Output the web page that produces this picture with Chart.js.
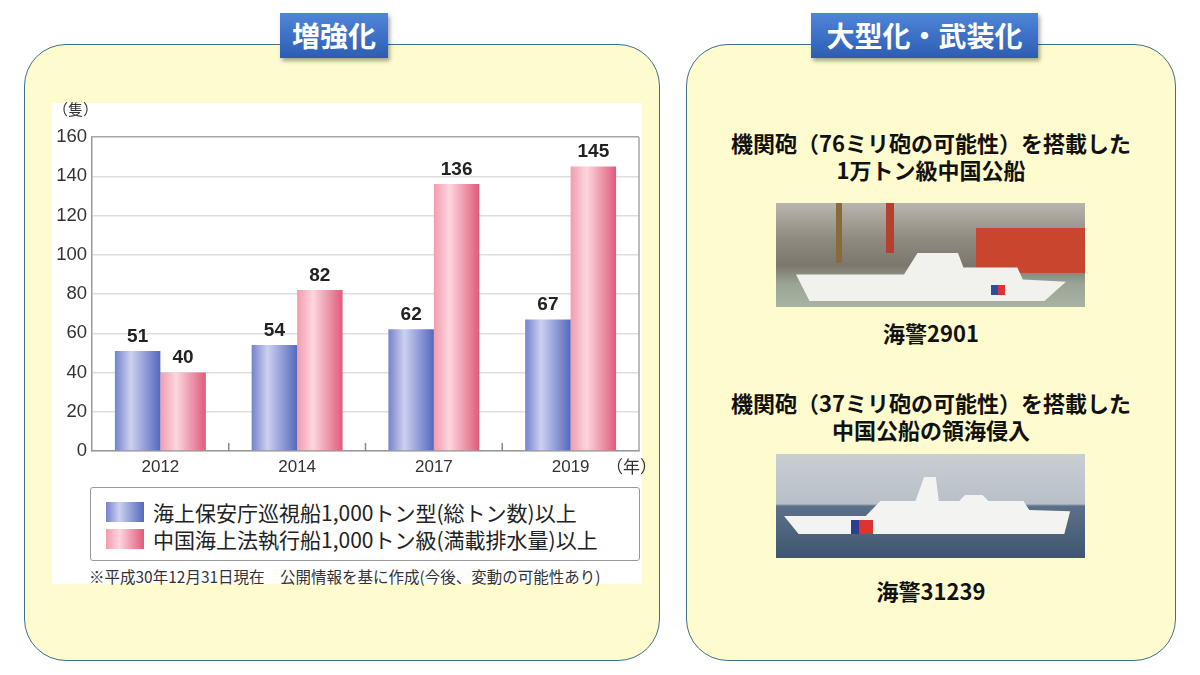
<!DOCTYPE html>
<html lang="ja">
<head>
<meta charset="utf-8">
<title>増強化・大型化・武装化</title>
<script src="https://cdn.jsdelivr.net/npm/chart.js@4.4.1/dist/chart.umd.min.js"></script>
<style>
  html, body { margin: 0; padding: 0; }
  body {
    width: 1200px; height: 675px; position: relative; overflow: hidden;
    background: #ffffff;
    font-family: "Noto Sans CJK JP", "Noto Sans", sans-serif;
  }
  .panel {
    position: absolute; top: 44px; height: 617px;
    background: #fefccf; border: 1.5px solid #3d6f86; border-radius: 42px;
    box-sizing: border-box;
  }
  .tag {
    position: absolute; top: 13px; height: 45px; line-height: 45px;
    background: linear-gradient(#4f85d8, #2d5db3);
    color: #fff; font-weight: bold; font-size: 28px; text-align: center;
    box-shadow: 2px 3px 4px rgba(0,0,0,0.35);
  }
  #sheet { position: absolute; left: 52px; top: 103px; width: 590px; height: 481px; background: #fff; }
  #chartBox { position: absolute; left: 52px; top: 103px; width: 590px; height: 382px; }
  .unit { position: absolute; font-size: 15px; color: #333; }
  #legend {
    position: absolute; left: 90px; top: 487px; width: 550px; height: 74px;
    border: 1.5px solid #999; border-radius: 3px; box-sizing: border-box; background: #fff;
  }
  .lg-row { position: absolute; left: 15px; height: 28px; display: flex; align-items: center; font-size: 21px; color: #222; white-space: nowrap; }
  .lg-sw { width: 38px; height: 20px; margin-right: 9px; }
  #note { position: absolute; left: 89px; top: 565px; font-size: 15.5px; color: #333; white-space: nowrap; }
  .cap { position: absolute; left: 686px; width: 490px; text-align: center; font-weight: bold; font-size: 22px; color: #111; line-height: 27px; }
  .photo { position: absolute; left: 776px; width: 309px; height: 104px; overflow: hidden; }
  .shape { position: absolute; }
</style>
</head>
<body>

<div class="panel" style="left:24px; width:636px;"></div>
<div class="panel" style="left:686px; width:490px;"></div>
<div class="tag" style="left:280px; width:108px;">増強化</div>
<div class="tag" style="left:811px; width:227px;">大型化・武装化</div>

<div id="sheet"></div>
<div id="chartBox"><canvas id="shipChart"></canvas></div>
<div class="unit" style="left:53px; top:98px;">（隻）</div>
<div class="unit" style="left:606px; top:453px; font-size:17px;">（年）</div>
<div id="legend"></div>
<div id="note">※平成30年12月31日現在　公開情報を基に作成(今後、変動の可能性あり)</div>

<div class="cap" style="top:129px;">機関砲（76ミリ砲の可能性）を搭載した<br>1万トン級中国公船</div>
<div class="photo" style="top:203px; background: linear-gradient(#b9b5ad 0%, #8f8a80 35%, #7c776c 60%, #9aa596 78%, #a9b3a2 100%);">
  <div class="shape" style="left:200px; top:25px; width:109px; height:45px; background:#c8462e;"></div>
  <div class="shape" style="left:60px; top:0; width:6px; height:60px; background:#8a6a3c;"></div>
  <div class="shape" style="left:110px; top:0; width:8px; height:50px; background:#b64030;"></div>
  <div class="shape" style="left:20px; top:50px; width:270px; height:48px; background:#f1f1ee; clip-path: polygon(0 45%, 40% 45%, 45% 0, 60% 0, 62% 30%, 82% 30%, 84% 55%, 100% 60%, 92% 100%, 5% 100%);"></div>
  <div class="shape" style="left:215px; top:82px; width:14px; height:10px; background:linear-gradient(90deg,#2b4fa0 50%,#d33 50%);"></div>
</div>
<div class="cap" style="top:319px;">海警2901</div>

<div class="cap" style="top:389px;">機関砲（37ミリ砲の可能性）を搭載した<br>中国公船の領海侵入</div>
<div class="photo" style="top:454px; background: linear-gradient(#c9ced3 0%, #b8bfc6 48%, #5c7189 50%, #3f566f 100%);">
  <div class="shape" style="left:8px; top:20px; width:292px; height:60px; background:#f3f3f1; clip-path: polygon(0 70%, 28% 70%, 33% 45%, 45% 45%, 48% 5%, 52% 5%, 53% 45%, 60% 45%, 62% 35%, 68% 35%, 70% 45%, 82% 45%, 84% 60%, 98% 62%, 96% 100%, 5% 100%);"></div>
  <div class="shape" style="left:75px; top:66px; width:22px; height:14px; background:linear-gradient(90deg,#2b3f8a 35%,#d33 35%);"></div>
</div>
<div class="cap" style="top:577px;">海警31239</div>

<script>
// chart data
const years = ['2012', '2014', '2017', '2019'];
const jcgShips = [51, 54, 62, 67];
const chinaShips = [40, 82, 136, 145];
const seriesNames = [
  '海上保安庁巡視船1,000トン型(総トン数)以上',
  '中国海上法執行船1,000トン級(満載排水量)以上'
];
const yMin = 0, yMax = 160, yStep = 20;

// bar gradient stops: left, highlight, right
const blueStops = ['#7483cb', '#cdd0f0', '#5568bd'];
const pinkStops = ['#f29cae', '#fcd6de', '#e05a7b'];

// build HTML legend from the series names
var legend = document.getElementById('legend');
[blueStops, pinkStops].forEach((stops, i) => {
  var row = document.createElement('div');
  row.className = 'lg-row';
  row.style.top = (i === 0 ? 10 : 37) + 'px';
  var sw = document.createElement('div');
  sw.className = 'lg-sw';
  sw.style.background = 'linear-gradient(90deg,' + stops[0] + ' 0%,' + stops[1] + ' 35%,' + stops[2] + ' 100%)';
  row.append(sw);
  var label = document.createElement('span');
  label.textContent = seriesNames[i];
  row.append(label);
  legend.append(row);
});

// paint each bar with a horizontal gradient once its position is known
const barShading = {
  id: 'barShading',
  beforeDatasetsDraw(chart) {
    const ctx = chart.ctx;
    chart.data.datasets.forEach((ds, di) => {
      const stops = di === 0 ? blueStops : pinkStops;
      chart.getDatasetMeta(di).data.forEach((el) => {
        const p = el.getProps(['x', 'width'], true);
        const g = ctx.createLinearGradient(p.x - p.width / 2, 0, p.x + p.width / 2, 0);
        g.addColorStop(0, stops[0]);
        g.addColorStop(0.35, stops[1]);
        g.addColorStop(1, stops[2]);
        el.options.backgroundColor = g;
      });
    });
  }
};

// value labels, plot frame and the small ticks between year groups
const extras = {
  id: 'extras',
  afterDatasetsDraw(chart) {
    const ctx = chart.ctx;
    const area = chart.chartArea;
    const xs = chart.scales.x;
    ctx.save();
    ctx.strokeStyle = '#a6a6a6';
    ctx.lineWidth = 1.5;
    ctx.beginPath();
    ctx.moveTo(area.right, area.top);
    ctx.lineTo(area.right, area.bottom);
    ctx.stroke();
    ctx.strokeStyle = '#888';
    for (var i = 1; i < years.length; i++) {
      var bx = (xs.getPixelForTick(i - 1) + xs.getPixelForTick(i)) / 2;
      ctx.beginPath();
      ctx.moveTo(bx, area.bottom - 8);
      ctx.lineTo(bx, area.bottom);
      ctx.stroke();
    }
    ctx.fillStyle = '#222';
    ctx.font = 'bold 19px "Liberation Sans", Arial, sans-serif';
    ctx.textAlign = 'center';
    ctx.textBaseline = 'bottom';
    chart.data.datasets.forEach((ds, di) => {
      chart.getDatasetMeta(di).data.forEach((el, idx) => {
        const p = el.getProps(['x', 'y'], true);
        ctx.fillText(String(ds.data[idx]), p.x, p.y - 5);
      });
    });
    ctx.restore();
  }
};

var shipChart = new Chart(document.getElementById('shipChart'), {
  type: 'bar',
  data: {
    labels: years,
    datasets: [{
      label: seriesNames[0],
      data: jcgShips,
      backgroundColor: () => blueStops[1]
    }, {
      label: seriesNames[1],
      data: chinaShips,
      backgroundColor: () => pinkStops[1]
    }]
  },
  options: {
    responsive: true,
    maintainAspectRatio: false,
    animation: false,
    layout: { padding: { top: 34, right: 3, left: 0, bottom: 0 } },
    datasets: { bar: { categoryPercentage: 0.665, barPercentage: 1.0 } },
    plugins: {
      legend: { display: false },
      tooltip: { enabled: false }
    },
    scales: {
      x: {
        grid: { display: false, drawTicks: false },
        border: { color: '#999', width: 1.5 },
        ticks: {
          color: '#333',
          padding: 6,
          font: { family: '"Liberation Sans", Arial, sans-serif', size: 17 }
        },
        afterFit: (scale) => { scale.height = 34; }
      },
      y: {
        min: yMin,
        max: yMax,
        ticks: {
          stepSize: yStep,
          color: '#333',
          padding: 5,
          font: { family: '"Liberation Sans", Arial, sans-serif', size: 18.5 }
        },
        grid: {
          drawTicks: false,
          lineWidth: 1.5,
          color: (c) => (c.tick && c.tick.value === yMax) ? '#a6a6a6' : '#dedede'
        },
        border: { color: '#999', width: 1.5 },
        afterFit: (scale) => { scale.width = 40; }
      }
    }
  },
  plugins: [barShading, extras]
});
</script>
</body>
</html>
